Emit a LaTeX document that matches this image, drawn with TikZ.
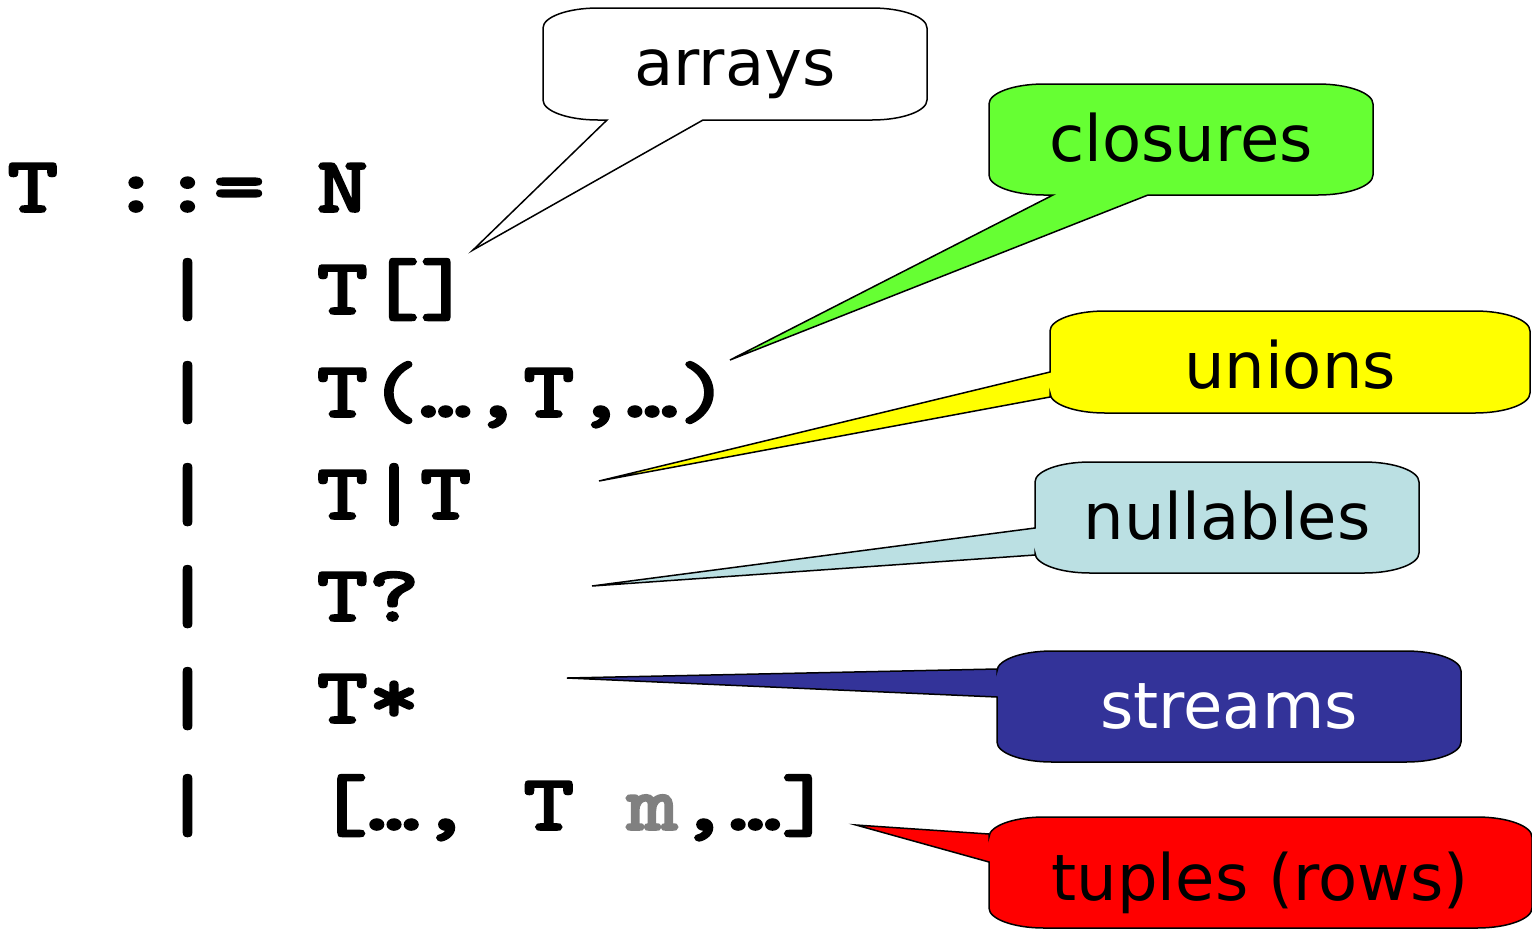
\documentclass[tikz,border=0pt]{standalone}
\usepackage{fontspec}
\setmainfont{DejaVu Sans}
% slab-serif typewriter face, widened to a Courier-like pitch and thickened
\newfontfamily\codefont{lmmonolt10-bold}[Extension=.otf, FakeStretch=1.229, FakeBold=2]
\frenchspacing

% corner radii of the balloons and the Bezier factor for a quarter ellipse
\def\cornerx{55}
\def\cornery{20}
\def\cornerk{0.448}

% balloon whose pointer leaves the bottom edge
% #1 fill, #2 left, #3 top, #4 right, #5 bottom, #6/#7 base of the pointer, #8 tip
\newcommand\calloutbelow[8]{%
  \draw[balloon,fill=#1]
   (#6,#5) -- (#8) -- (#7,#5) -- ({#4-\cornerx},#5)
   .. controls ({#4-\cornerk*\cornerx},#5) and (#4,{#5-\cornerk*\cornery}) .. (#4,{#5-\cornery})
   -- (#4,{#3+\cornery})
   .. controls (#4,{#3+\cornerk*\cornery}) and ({#4-\cornerk*\cornerx},#3) .. ({#4-\cornerx},#3)
   -- ({#2+\cornerx},#3)
   .. controls ({#2+\cornerk*\cornerx},#3) and (#2,{#3+\cornerk*\cornery}) .. (#2,{#3+\cornery})
   -- (#2,{#5-\cornery})
   .. controls (#2,{#5-\cornerk*\cornery}) and ({#2+\cornerk*\cornerx},#5) .. ({#2+\cornerx},#5)
   -- cycle;}

% balloon whose pointer leaves the left edge
\newcommand\calloutleft[8]{%
  \draw[balloon,fill=#1]
   (#2,#6) -- (#8) -- (#2,#7) -- (#2,{#5-\cornery})
   .. controls (#2,{#5-\cornerk*\cornery}) and ({#2+\cornerk*\cornerx},#5) .. ({#2+\cornerx},#5)
   -- ({#4-\cornerx},#5)
   .. controls ({#4-\cornerk*\cornerx},#5) and (#4,{#5-\cornerk*\cornery}) .. (#4,{#5-\cornery})
   -- (#4,{#3+\cornery})
   .. controls (#4,{#3+\cornerk*\cornery}) and ({#4-\cornerk*\cornerx},#3) .. ({#4-\cornerx},#3)
   -- ({#2+\cornerx},#3)
   .. controls ({#2+\cornerk*\cornerx},#3) and (#2,{#3+\cornerk*\cornery}) .. (#2,{#3+\cornery})
   -- cycle;}

\definecolor{closuregreen}{HTML}{66FF33}
\definecolor{unionyellow}{HTML}{FFFF00}
\definecolor{nullblue}{HTML}{BBE0E3}
\definecolor{streamblue}{HTML}{333399}
\definecolor{tuplered}{HTML}{FF0000}

\begin{document}
\begin{tikzpicture}[x=0.5pt,y=-0.5pt,
  code/.style={font=\codefont\fontsize{40}{40}\selectfont,
               anchor=base west, inner sep=0pt, outer sep=0pt},
  tag/.style={font=\fontsize{32}{32}\selectfont, anchor=base, inner sep=0pt},
  balloon/.style={draw=black, line width=0.75pt}]
\useasboundingbox (0,0) rectangle (1532,928);

% grammar of types
\node[code] (lhs)  at (7,212)     {T~::=~N};
\node[code] (bar1) at (161.8,314) {|};
\node[code] (arr)  at (316.6,314) {T[]};
\node[code] (bar2) at (161.8,417) {|};
\node[code] (fun)  at (316.6,417) {T(…,T,…)};
\node[code] (bar3) at (161.8,519) {|};
\node[code] (uni)  at (316.6,519) {T|T};
\node[code] (bar4) at (161.8,621) {|};
\node[code] (nul)  at (316.6,621) {T?};
\node[code] (bar5) at (161.8,723) {|};
\node[code] (str)  at (316.6,723) {T*};
\node[code] (bar6) at (161.8,830) {|};
\node[code] (tup)  at (316.6,830) {[…,~T~{\color{gray}m},…]};

% pointer tips
\coordinate (tipArr) at (473,250);
\coordinate (tipFun) at (730,360);
\coordinate (tipUni) at (599,481);
\coordinate (tipNul) at (592,586);
\coordinate (tipStr) at (567,678);
\coordinate (tipTup) at (856,825);

% balloons
\calloutbelow{white}{543}{8}{927}{120}{607}{703}{tipArr}
\calloutbelow{closuregreen}{989}{84}{1373}{195}{1053}{1148}{tipFun}
\calloutleft{unionyellow}{1050}{311}{1530}{413}{372}{397}{tipUni}
\calloutleft{nullblue}{1035}{462}{1419}{573}{528}{555}{tipNul}
\calloutleft{streamblue}{997}{651}{1461}{762}{669}{697}{tipStr}
\calloutleft{tuplered}{989}{817}{1532}{928}{834}{862}{tipTup}

% balloon texts
\node[tag] (tArr) at (735,85)   {arrays};
\node[tag] (tFun) at (1181,161) {closures};
\node[tag] (tUni) at (1290,388) {unions};
\node[tag] (tNul) at (1227,539) {nullables};
\node[tag, text=white] (tStr) at (1229,728) {streams};
\node[tag] (tTup) at (1260,900) {tuples (rows)};
\end{tikzpicture}
\end{document}
